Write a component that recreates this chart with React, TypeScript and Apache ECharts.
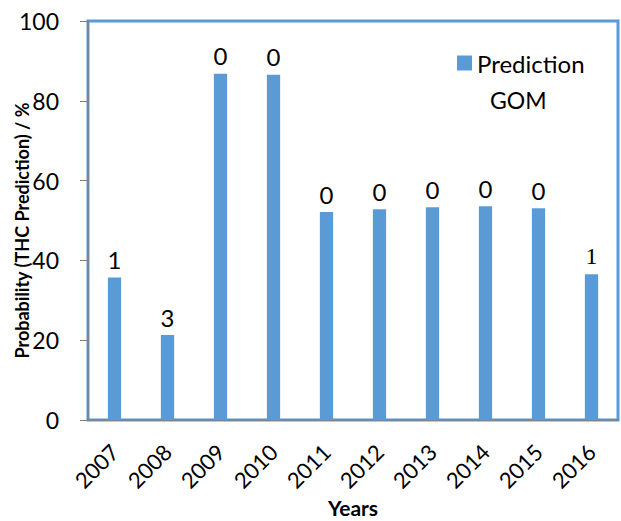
import React, { useEffect, useRef } from "react";
import * as echarts from "echarts";

const years = ["2007", "2008", "2009", "2010", "2011", "2012", "2013", "2014", "2015", "2016"];
const prediction = [35.7, 21.3, 86.8, 86.5, 52.1, 52.8, 53.3, 53.6, 53.1, 36.5];
const barLabels = ["1", "3", "0", "0", "0", "0", "0", "0", "0", "1"];
const yTicks = [0, 20, 40, 60, 80, 100];

const FONT = "Lato";
const BLUE = "#5B9BD5";

export default function App() {
  const ref = useRef<HTMLDivElement>(null);
  useEffect(() => {
    document.body.style.margin = "0";
    if (!ref.current) return;
    const chart = echarts.init(ref.current, null, { renderer: "svg" });
    chart.setOption({
      animation: false,
      backgroundColor: "#ffffff",
      textStyle: { fontFamily: FONT },
      grid: {
        left: 88,
        right: 3,
        top: 21,
        bottom: 101,
        outerBoundsMode: "none",
        containLabel: false,
        show: true,
        borderColor: BLUE,
        borderWidth: 3,
        backgroundColor: "transparent",
      },
      legend: {
        data: ["Prediction"],
        left: 452,
        top: 46,
        itemWidth: 15,
        itemHeight: 15,
        itemGap: 6,
        icon: "rect",
        textStyle: { fontFamily: FONT, fontSize: 24, color: "#000" },
      },
      graphic: [
        {
          type: "text",
          left: 490,
          top: 88,
          style: { text: "GOM", fontFamily: FONT, fontSize: 23, fill: "#000" },
        },
      ],
      xAxis: {
        type: "category",
        data: years,
        name: "Years",
        nameLocation: "middle",
        nameGap: 77,
        nameMoveOverlap: false,
        nameTextStyle: { fontFamily: FONT, fontSize: 21, fontWeight: "bold", color: "#000" },
        axisLine: { show: true, lineStyle: { color: "#808080", width: 1.5 } },
        axisTick: { show: false },
        axisLabel: {
          rotate: 45,
          fontFamily: FONT,
          fontSize: 22,
          color: "#000",
          margin: 28,
          interval: 0,
        },
      },
      yAxis: {
        type: "value",
        min: 0,
        max: 100,
        interval: 20,
        name: "Probability (THC Prediction) / %",
        nameLocation: "middle",
        nameGap: 57,
        nameMoveOverlap: false,
        nameTextStyle: {
          fontFamily: FONT,
          fontSize: 18,
          fontWeight: "bold",
          color: "#000",
          padding: [0, 20, 0, 0],
        },
        axisLine: { show: true, lineStyle: { color: "#808080", width: 1.5 } },
        axisTick: { show: true, length: 8, lineStyle: { color: "#808080" } },
        splitLine: { show: false },
        axisLabel: {
          fontFamily: FONT,
          fontSize: 23,
          color: "#000",
          margin: 29,
          formatter: (v: number) => (yTicks.includes(v) ? String(v) : ""),
        },
      },
      series: [
        {
          name: "Prediction",
          type: "bar",
          barWidth: "25%",
          itemStyle: { color: BLUE },
          data: prediction.map((v, i) => ({
            value: v,
            label: i === prediction.length - 1 ? { fontFamily: "Liberation Serif", fontSize: 24 } : undefined,
          })),
          label: {
            show: true,
            position: "top",
            distance: 6,
            fontFamily: FONT,
            fontSize: 24,
            color: "#000",
            formatter: (p: any) => barLabels[p.dataIndex],
          },
        },
      ],
    });
    return () => chart.dispose();
  }, []);
  return <div ref={ref} style={{ width: 621, height: 521 }} />;
}
